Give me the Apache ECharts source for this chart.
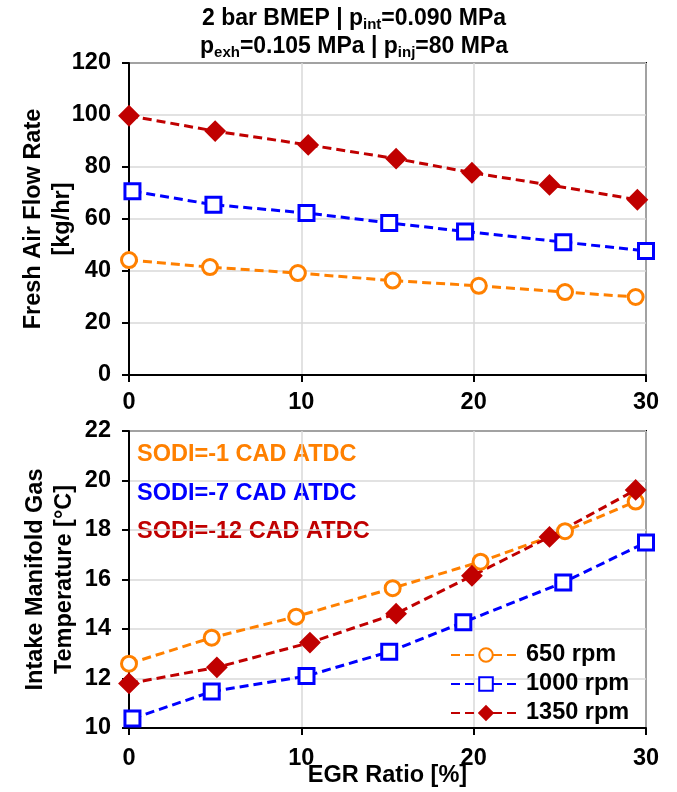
<!DOCTYPE html>
<html>
<head>
<meta charset="utf-8">
<script src="https://cdn.jsdelivr.net/npm/echarts@6/dist/echarts.min.js"></script>
<style>
  html, body { margin: 0; padding: 0; background: #fff; }
  #chart { width: 677px; height: 792px; }
</style>
</head>
<body>
<div id="chart"></div>
<script>
// EGR sweep at 2 bar BMEP: fresh air flow (top) and intake manifold temperature (bottom)
const seriesNames = ['650 rpm', '1000 rpm', '1350 rpm'];
const seriesColors = ['#FF8000', '#0000FF', '#C00000'];
const seriesSymbols = ['circle', 'rect', 'diamond'];

// [EGR ratio %, fresh air flow kg/hr]
const air650 = [[0, 44.2], [4.7, 41.5], [9.8, 39.2], [15.3, 36.3], [20.3, 34.3], [25.3, 31.9], [29.4, 30.0]];
const air1000 = [[0.2, 70.7], [4.9, 65.5], [10.3, 62.3], [15.1, 58.5], [19.5, 55.2], [25.2, 51.1], [30.0, 47.7]];
const air1350 = [[0, 99.7], [5.0, 93.8], [10.4, 88.5], [15.5, 83.2], [19.9, 77.8], [24.4, 73.1], [29.5, 67.4]];

// [EGR ratio %, intake manifold gas temperature °C]
const temp650 = [[0, 12.6], [4.8, 13.65], [9.7, 14.5], [15.3, 15.65], [20.4, 16.72], [25.3, 17.95], [29.4, 19.15]];
const temp1000 = [[0.2, 10.38], [4.8, 11.47], [10.3, 12.1], [15.1, 13.08], [19.4, 14.27], [25.2, 15.88], [30.0, 17.5]];
const temp1350 = [[0, 11.8], [5.1, 12.45], [10.5, 13.45], [15.5, 14.62], [19.9, 16.15], [24.4, 17.72], [29.4, 19.62]];

const xTicks = [0, 10, 20, 30];
const airTicks = [0, 20, 40, 60, 80, 100, 120];
const tempTicks = [10, 12, 14, 16, 18, 20, 22];

const sodiLabels = ['SODI=-1 CAD ATDC', 'SODI=-7 CAD ATDC', 'SODI=-12 CAD ATDC'];

const FONT = '"Liberation Sans", Arial, sans-serif';
const FS = 23.5;
const chart = echarts.init(document.getElementById('chart'), null, { renderer: 'canvas' });

function xAxisDef(gridIndex, withName, labelMargin) {
  return {
    type: 'value', gridIndex: gridIndex,
    min: xTicks[0], max: xTicks[xTicks.length - 1], interval: xTicks[1] - xTicks[0],
    axisLine: { show: true, onZero: false, lineStyle: { color: '#000', width: 2 } },
    axisTick: { show: true, inside: false, length: 7, lineStyle: { color: '#000', width: 2 } },
    axisLabel: { color: '#000', fontFamily: FONT, fontWeight: 'bold', fontSize: FS, margin: labelMargin },
    splitLine: { show: true, lineStyle: { color: '#d9d9d9', width: 1.5 } },
    name: withName ? 'EGR Ratio [%]' : '',
    nameLocation: 'middle', nameGap: 36, nameMoveOverlap: false,
    nameTextStyle: { color: '#000', fontFamily: FONT, fontWeight: 'bold', fontSize: FS }
  };
}

function yAxisDef(gridIndex, ticks, name, gap) {
  return {
    type: 'value', gridIndex: gridIndex,
    min: ticks[0], max: ticks[ticks.length - 1], interval: ticks[1] - ticks[0],
    axisLine: { show: true, onZero: false, lineStyle: { color: '#000', width: 2 } },
    axisTick: { show: true, inside: false, length: 7, lineStyle: { color: '#000', width: 2 } },
    axisLabel: { color: '#000', fontFamily: FONT, fontWeight: 'bold', fontSize: FS, margin: 18 },
    splitLine: { show: true, lineStyle: { color: '#d9d9d9', width: 1.5 } },
    name: name, nameLocation: 'middle', nameGap: gap, nameRotate: 90, nameMoveOverlap: false,
    nameTextStyle: { color: '#000', fontFamily: FONT, fontWeight: 'bold', fontSize: FS, lineHeight: 29 }
  };
}

function lineSeries(i, data, axisIndex) {
  const filled = i === 2;
  return {
    type: 'line', name: seriesNames[i], data: data,
    xAxisIndex: axisIndex, yAxisIndex: axisIndex,
    symbol: seriesSymbols[i], symbolSize: filled ? 19 : 15,
    color: seriesColors[i],
    lineStyle: { color: seriesColors[i], width: 3, type: [9, 5] },
    itemStyle: { color: filled ? seriesColors[i] : '#fff', borderColor: seriesColors[i], borderWidth: filled ? 2 : 3 },
    emphasis: { disabled: true },
    animation: false
  };
}

const airData = [air650, air1000, air1350];
const tempData = [temp650, temp1000, temp1350];

const series = [];
airData.forEach((d, i) => series.push(lineSeries(i, d, 0)));
tempData.forEach((d, i) => series.push(lineSeries(i, d, 1)));

const titleRich = {
  m: { fontFamily: FONT, fontWeight: 'bold', fontSize: 23, color: '#000', lineHeight: 28 },
  s: { fontFamily: FONT, fontWeight: 'bold', fontSize: 15, color: '#000', lineHeight: 28, padding: [11, 0, 0, 0] }
};

chart.setOption({
  backgroundColor: '#fff',
  animation: false,
  title: {
    text: '{m|2 bar BMEP | p}{s|int}{m|=0.090 MPa}\n{m|p}{s|exh}{m|=0.105 MPa | p}{s|inj}{m|=80 MPa}',
    left: 354, top: 5, textAlign: 'center', padding: 0,
    textStyle: { rich: titleRich, fontFamily: FONT, fontWeight: 'bold', fontSize: 23 }
  },
  grid: [
    { left: 129, top: 63, width: 517, height: 312, show: true, borderColor: '#000', borderWidth: 2, backgroundColor: 'transparent' },
    { left: 129, top: 431, width: 517, height: 297, show: true, borderColor: '#000', borderWidth: 2, backgroundColor: 'transparent' }
  ],
  xAxis: [xAxisDef(0, false, 16), xAxisDef(1, true, 19)],
  yAxis: [
    yAxisDef(0, airTicks, 'Fresh Air Flow Rate\n[kg/hr]', 52),
    yAxisDef(1, tempTicks, 'Intake Manifold Gas\nTemperature [°C]', 50)
  ],
  legend: {
    data: seriesNames,
    orient: 'vertical',
    left: 450, top: 643, padding: 0,
    itemWidth: 70, itemHeight: 17, itemGap: 5,
    textStyle: { color: '#000', fontFamily: FONT, fontWeight: 'bold', fontSize: FS },
    selectedMode: false
  },
  graphic: sodiLabels.map((t, i) => ({
    type: 'text', x: 137, y: [455, 494, 532][i],
    style: { text: t, fill: seriesColors[i], font: 'bold ' + FS + 'px ' + FONT, verticalAlign: 'middle' }
  })),
  series: series
});
</script>
</body>
</html>
